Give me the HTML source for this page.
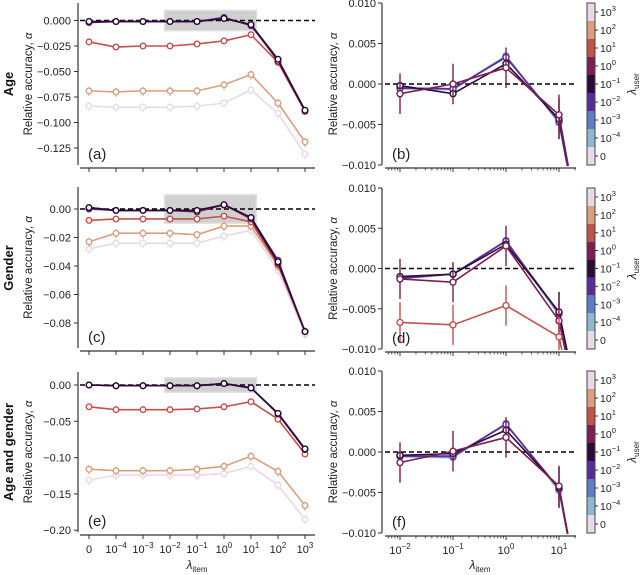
<!DOCTYPE html>
<html><head><meta charset="utf-8"><style>
html,body{margin:0;background:#fff;width:640px;height:575px;overflow:hidden}
svg{font-family:"Liberation Sans",sans-serif;display:block;overflow:hidden}
</style></head><body>
<svg id="fig" width="640" height="575" viewBox="0 0 640 575" xmlns="http://www.w3.org/2000/svg"></svg>
<script>
// ---- data ----
const itemCats = ['0','10^-4','10^-3','10^-2','10^-1','10^0','10^1','10^2','10^3'];
const userLabels = ['0','10^-4','10^-3','10^-2','10^-1','10^0','10^1','10^2','10^3'];
const userColors = ['#e6dbe6','#8fb7cf','#5d7bc6','#5a2b9c','#2b0c38','#7d1d52','#c3524a','#d9a07f','#e7dae6'];
const leftDrawOrder = [8,7,6,3,5,4];
const ageLeft = {
 4:[-0.001,-0.001,-0.001,-0.001,-0.001,0.002,-0.004,-0.038,-0.088],
 3:[-0.001,-0.001,-0.001,-0.001,-0.001,0.003,-0.005,-0.039,-0.088],
 5:[-0.002,-0.001,-0.001,-0.001,-0.001,0.002,-0.004,-0.040,-0.089],
 6:[-0.021,-0.026,-0.025,-0.025,-0.023,-0.020,-0.014,-0.041,-0.089],
 7:[-0.069,-0.070,-0.069,-0.069,-0.069,-0.063,-0.053,-0.081,-0.119],
 8:[-0.084,-0.085,-0.085,-0.085,-0.084,-0.081,-0.068,-0.091,-0.131]};
const genderLeft = {
 4:[0.001,-0.001,-0.001,-0.001,-0.001,0.003,-0.006,-0.037,-0.086],
 3:[0.000,-0.001,-0.001,-0.001,-0.001,0.003,-0.006,-0.036,-0.086],
 5:[0.001,-0.001,-0.001,-0.001,-0.002,0.003,-0.007,-0.038,-0.086],
 6:[-0.008,-0.007,-0.007,-0.007,-0.007,-0.005,-0.009,-0.039,-0.086],
 7:[-0.023,-0.017,-0.017,-0.017,-0.018,-0.012,-0.012,-0.040,-0.086],
 8:[-0.028,-0.024,-0.024,-0.024,-0.024,-0.019,-0.015,-0.043,-0.088]};
const bothLeft = {
 4:[0.000,-0.001,-0.001,-0.001,-0.001,0.002,-0.004,-0.039,-0.088],
 3:[0.000,-0.001,-0.001,-0.001,-0.001,0.002,-0.004,-0.039,-0.088],
 5:[0.000,-0.001,-0.001,-0.001,-0.001,0.002,-0.004,-0.040,-0.089],
 6:[-0.030,-0.034,-0.034,-0.034,-0.033,-0.030,-0.023,-0.047,-0.095],
 7:[-0.116,-0.118,-0.118,-0.118,-0.116,-0.112,-0.098,-0.119,-0.166],
 8:[-0.131,-0.124,-0.124,-0.124,-0.124,-0.122,-0.112,-0.138,-0.185]};
const zoomX = [0.01,0.1,1,10,100];
const ageRight = {
 1:[-0.0006,-0.0007,0.0035,-0.0048,-0.039],
 2:[-0.0005,-0.0006,0.0034,-0.0047,-0.039],
 3:[-0.0005,-0.0006,0.0033,-0.0046,-0.039],
 4:[-0.0002,-0.0012,0.0025,-0.0043,-0.038],
 5:[-0.0012,0.0000,0.0020,-0.0038,-0.040]};
const genderRight = {
 1:[-0.0013,-0.0007,0.0035,-0.0058,-0.037],
 2:[-0.0012,-0.0007,0.0034,-0.0056,-0.037],
 3:[-0.0012,-0.0007,0.0034,-0.0055,-0.037],
 4:[-0.0010,-0.0007,0.0030,-0.0054,-0.037],
 5:[-0.0013,-0.0017,0.0028,-0.0065,-0.038],
 6:[-0.0067,-0.0070,-0.0046,-0.0085,-0.039]};
const bothRight = {
 1:[-0.0006,-0.0007,0.0035,-0.0048,-0.039],
 2:[-0.0005,-0.0006,0.0035,-0.0046,-0.039],
 3:[-0.0005,-0.0005,0.0034,-0.0045,-0.039],
 4:[-0.0004,-0.0002,0.0027,-0.0044,-0.039],
 5:[-0.0013,0.0001,0.0018,-0.0042,-0.040]};
const errRight = 0.0025;
const ageTicks = [0,-0.025,-0.05,-0.075,-0.1,-0.125];
const ageTickLabels = ['0.000','\u22120.025','\u22120.050','\u22120.075','\u22120.100','\u22120.125'];
const genderTicks = [0,-0.02,-0.04,-0.06,-0.08];
const genderTickLabels = ['0.00','\u22120.02','\u22120.04','\u22120.06','\u22120.08'];
const bothTicks = [0,-0.05,-0.1,-0.15,-0.2];
const bothTickLabels = ['0.00','\u22120.05','\u22120.10','\u22120.15','\u22120.20'];
const rightTicks = [0.01,0.005,0,-0.005,-0.01];
const rightTickLabels = ['0.010','0.005','0.000','\u22120.005','\u22120.010'];

const NS='http://www.w3.org/2000/svg';
const fig=document.getElementById('fig');
function el(tag,attrs,parent){const e=document.createElementNS(NS,tag);for(const k in attrs)e.setAttribute(k,attrs[k]);(parent||fig).appendChild(e);return e;}
function supText(parent,x,y,lab,anchor,size){
  const t=el('text',{x:x,y:y,'font-size':size,'text-anchor':anchor,fill:'#222'},parent);
  if(lab.indexOf('^')<0){t.textContent=lab;return t;}
  const p=lab.split('^');
  const a=el('tspan',{},t);a.textContent=p[0];
  const b=el('tspan',{dy:-5,'font-size':size*0.72},t);b.textContent=p[1].replace('-','\u2212');
  return t;
}
const tick='#333';
function drawLeft(name,letter,zeroPx,ppu,axTop,axBot,ticks,labels,data,showX){
  const g=el('g',{});
  
  
  const xs=i=>89+27*i;
  const ys=v=>zeroPx-v*ppu;
  const bx=el('rect',{x:xs(2.8),y:ys(0.01),width:xs(6.2)-xs(2.8),height:ys(-0.01)-ys(0.01),fill:'#d0d0d0',stroke:'#e2e2e2','stroke-width':1.5},g);
  
  
  el('line',{x1:78,y1:axTop,x2:78,y2:axBot,stroke:tick,'stroke-width':1.2},g);
  el('line',{x1:80,y1:axBot+3,x2:315,y2:axBot+3,stroke:tick,'stroke-width':1.2},g);
  ticks.forEach((t,i)=>{el('line',{x1:74,x2:78,y1:ys(t),y2:ys(t),stroke:tick},g);
    const tx=el('text',{x:71,y:ys(t)+4,'font-size':11,'text-anchor':'end',fill:'#222'},g);tx.textContent=labels[i];});
  itemCats.forEach((c,i)=>{el('line',{x1:xs(i),x2:xs(i),y1:axBot+3,y2:axBot+7,stroke:tick},g);
    if(showX)supText(g,xs(i),axBot+21,c,'middle',11);});
  el('line',{x1:80,x2:315,y1:ys(0),y2:ys(0),stroke:'#000','stroke-width':1.5,'stroke-dasharray':'5,3'},g);
  leftDrawOrder.forEach(k=>{
    const vals=data[k],col=userColors[k];
    const s=el('g',{},g);
    
    
    el('polyline',{points:vals.map((v,i)=>xs(i)+','+ys(v)).join(' '),fill:'none',stroke:col,'stroke-width':1.6},s);
    vals.forEach((v,i)=>{
      if(k>=7) el('line',{x1:xs(i),x2:xs(i),y1:ys(v)-4,y2:ys(v)+5,stroke:col,'stroke-width':1.2},s);
      el('circle',{cx:xs(i),cy:ys(v),r:2.8,fill:'#fff',stroke:col,'stroke-width':1.4},s);});
  });
  const lt=el('text',{x:88,y:axBot-6,'font-size':15,fill:'#222'},g);lt.textContent='('+letter+')';
  const yl=el('text',{x:0,y:0,'font-size':11.5,'text-anchor':'middle',fill:'#222',transform:'translate(32,'+((axTop+axBot)/2)+') rotate(-90)'},g);
  yl.innerHTML='Relative accuracy, <tspan font-style="italic">α</tspan>';
}
let clipN=0;
function drawRight(name,letter,zeroPx,axTop,axBot,data,showX){
  const g=el('g',{});
  
  
  const ppu=(axBot-axTop)/0.02;
  const ys=v=>zeroPx-v*ppu;
  const xs=v=>400+53*(Math.log10(v)+2);
  const id='clip'+(clipN++);
  const cp=el('clipPath',{id:id},g);el('rect',{x:383,y:axTop-1,width:194,height:axBot-axTop+2},cp);
  el('line',{x1:382,y1:axTop,x2:382,y2:axBot,stroke:tick,'stroke-width':1.2},g);
  el('line',{x1:385,y1:axBot+3,x2:576,y2:axBot+3,stroke:tick,'stroke-width':1.2},g);
  rightTicks.forEach((t,i)=>{el('line',{x1:378,x2:382,y1:ys(t),y2:ys(t),stroke:tick},g);
    const tx=el('text',{x:376,y:ys(t)+4,'font-size':11,'text-anchor':'end',fill:'#222'},g);tx.textContent=rightTickLabels[i];});
  for(let d=-3;d<=1;d++)for(let m=1;m<10;m++){const v=m*Math.pow(10,d);const x=xs(v);if(x<385||x>576)continue;
    el('line',{x1:x,x2:x,y1:axBot+3,y2:axBot+(m==1?7:5.5),stroke:tick,'stroke-width':m==1?1:0.8},g);
    if(m==1&&showX)supText(g,x,axBot+21,'10^'+d,'middle',11);}
  el('line',{x1:385,x2:576,y1:ys(0),y2:ys(0),stroke:'#000','stroke-width':1.5,'stroke-dasharray':'5,3'},g);
  const pg=el('g',{'clip-path':'url(#'+id+')'},g);
  Object.keys(data).sort((a,b)=>a-b).forEach(k=>{
    const vals=data[k],col=userColors[k];
    const s=el('g',{},pg);
    
    
    el('polyline',{points:vals.map((v,i)=>xs(zoomX[i])+','+ys(v)).join(' '),fill:'none',stroke:col,'stroke-width':1.6},s);
    vals.forEach((v,i)=>{
      if(k==5||k==6||(k==4&&i==3)) el('line',{x1:xs(zoomX[i]),x2:xs(zoomX[i]),y1:ys(v+errRight),y2:ys(v-errRight),stroke:col,'stroke-width':1.4},s);
      el('circle',{cx:xs(zoomX[i]),cy:ys(v),r:3,fill:'#fff',stroke:col,'stroke-width':1.4},s);});
  });
  const lt=el('text',{x:392,y:axBot-6,'font-size':15,fill:'#222'},g);lt.textContent='('+letter+')';
  const yl=el('text',{x:0,y:0,'font-size':11.5,'text-anchor':'middle',fill:'#222',transform:'translate(337,'+((axTop+axBot)/2)+') rotate(-90)'},g);
  yl.innerHTML='Relative accuracy, <tspan font-style="italic">α</tspan>';
  const cb=el('g',{},g);
  
  
  const h=(axBot-axTop)/9;
  for(let i=0;i<9;i++){const yy=axBot-(i+1)*h;
    el('rect',{x:587,y:yy,width:8,height:h,fill:userColors[i]},cb);
    el('line',{x1:595,x2:598,y1:yy+h/2,y2:yy+h/2,stroke:tick},cb);
    supText(cb,600,yy+h/2+4,userLabels[i],'start',10.5);}
  el('rect',{x:587,y:axTop,width:8,height:axBot-axTop,fill:'none',stroke:'#444','stroke-width':1},cb);
  const cl=el('text',{x:0,y:0,'font-size':12,'text-anchor':'middle',fill:'#222',transform:'translate(636,'+((axTop+axBot)/2)+') rotate(-90)'},cb);
  cl.innerHTML='<tspan font-style="italic">λ</tspan><tspan font-size="8" dy="3">user</tspan>';
}
drawLeft('panel-a-age','a',20.5,1020,3,165,ageTicks,ageTickLabels,ageLeft,false);
drawLeft('panel-c-gender','c',209,1425,187,348,genderTicks,genderTickLabels,genderLeft,false);
drawLeft('panel-e-age-gender','e',385,726,372,532,bothTicks,bothTickLabels,bothLeft,true);
drawRight('panel-b-age-zoom','b',84,3,165,ageRight,false);
drawRight('panel-d-gender-zoom','d',268.5,188,349,genderRight,false);
drawRight('panel-f-age-gender-zoom','f',452,371,533,bothRight,true);
[['Age',84],['Gender',268],['Age and gender',452]].forEach(r=>{
  const t=el('text',{x:0,y:0,'font-size':13,'font-weight':'bold','text-anchor':'middle',fill:'#111',transform:'translate(13,'+r[1]+') rotate(-90)'});
  
  
  t.textContent=r[0];});
[[197],[480]].forEach(p=>{
  const t=el('text',{x:p[0],y:569,'font-size':12,'text-anchor':'middle',fill:'#222'});
  
  
  t.innerHTML='<tspan font-style="italic">λ</tspan><tspan font-size="8" dy="3">item</tspan>';});
</script>
</body></html>
